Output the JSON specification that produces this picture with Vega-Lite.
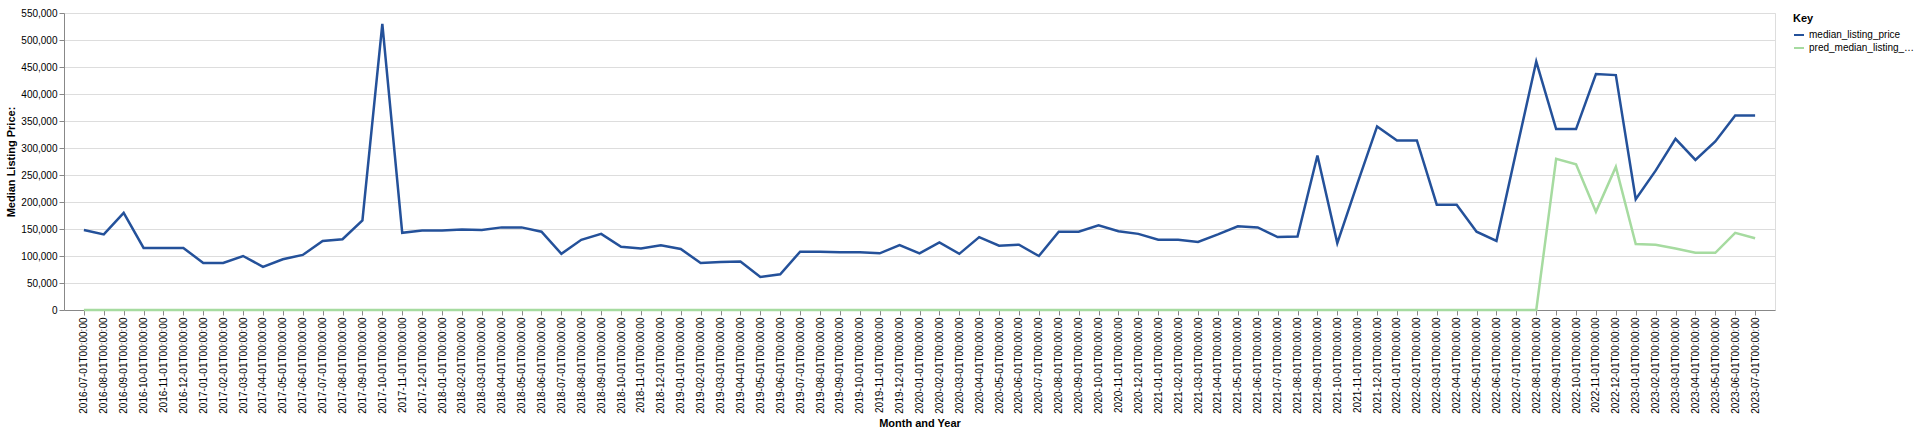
{
  "$schema": "https://vega.github.io/schema/vega-lite/v6.json",
  "width": 1920,
  "height": 434,
  "autosize": {"type": "fit", "contains": "padding"},
  "padding": {"left": 5, "top": 8, "right": 5, "bottom": 5},
  "config": {
    "font": "Liberation Sans",
    "view": {"stroke": "#ddd"},
    "axis": {"labelFontSize": 10, "titleFontSize": 11, "gridColor": "#ddd", "domainColor": "#888", "tickColor": "#888"},
    "legend": {"labelFontSize": 10, "titleFontSize": 11}
  },
  "data": {"values": [
    {"month": "2016-07-01T00:00:00", "median_listing_price": 148000, "pred_median_listing_price": 0},
    {"month": "2016-08-01T00:00:00", "median_listing_price": 140000, "pred_median_listing_price": 0},
    {"month": "2016-09-01T00:00:00", "median_listing_price": 180000, "pred_median_listing_price": 0},
    {"month": "2016-10-01T00:00:00", "median_listing_price": 115000, "pred_median_listing_price": 0},
    {"month": "2016-11-01T00:00:00", "median_listing_price": 115000, "pred_median_listing_price": 0},
    {"month": "2016-12-01T00:00:00", "median_listing_price": 115000, "pred_median_listing_price": 0},
    {"month": "2017-01-01T00:00:00", "median_listing_price": 87000, "pred_median_listing_price": 0},
    {"month": "2017-02-01T00:00:00", "median_listing_price": 87000, "pred_median_listing_price": 0},
    {"month": "2017-03-01T00:00:00", "median_listing_price": 100000, "pred_median_listing_price": 0},
    {"month": "2017-04-01T00:00:00", "median_listing_price": 80000, "pred_median_listing_price": 0},
    {"month": "2017-05-01T00:00:00", "median_listing_price": 94000, "pred_median_listing_price": 0},
    {"month": "2017-06-01T00:00:00", "median_listing_price": 102000, "pred_median_listing_price": 0},
    {"month": "2017-07-01T00:00:00", "median_listing_price": 128000, "pred_median_listing_price": 0},
    {"month": "2017-08-01T00:00:00", "median_listing_price": 131000, "pred_median_listing_price": 0},
    {"month": "2017-09-01T00:00:00", "median_listing_price": 166000, "pred_median_listing_price": 0},
    {"month": "2017-10-01T00:00:00", "median_listing_price": 530000, "pred_median_listing_price": 0},
    {"month": "2017-11-01T00:00:00", "median_listing_price": 143000, "pred_median_listing_price": 0},
    {"month": "2017-12-01T00:00:00", "median_listing_price": 147000, "pred_median_listing_price": 0},
    {"month": "2018-01-01T00:00:00", "median_listing_price": 147000, "pred_median_listing_price": 0},
    {"month": "2018-02-01T00:00:00", "median_listing_price": 149000, "pred_median_listing_price": 0},
    {"month": "2018-03-01T00:00:00", "median_listing_price": 148000, "pred_median_listing_price": 0},
    {"month": "2018-04-01T00:00:00", "median_listing_price": 153000, "pred_median_listing_price": 0},
    {"month": "2018-05-01T00:00:00", "median_listing_price": 153000, "pred_median_listing_price": 0},
    {"month": "2018-06-01T00:00:00", "median_listing_price": 145000, "pred_median_listing_price": 0},
    {"month": "2018-07-01T00:00:00", "median_listing_price": 104000, "pred_median_listing_price": 0},
    {"month": "2018-08-01T00:00:00", "median_listing_price": 130000, "pred_median_listing_price": 0},
    {"month": "2018-09-01T00:00:00", "median_listing_price": 141000, "pred_median_listing_price": 0},
    {"month": "2018-10-01T00:00:00", "median_listing_price": 117000, "pred_median_listing_price": 0},
    {"month": "2018-11-01T00:00:00", "median_listing_price": 114000, "pred_median_listing_price": 0},
    {"month": "2018-12-01T00:00:00", "median_listing_price": 120000, "pred_median_listing_price": 0},
    {"month": "2019-01-01T00:00:00", "median_listing_price": 113000, "pred_median_listing_price": 0},
    {"month": "2019-02-01T00:00:00", "median_listing_price": 87000, "pred_median_listing_price": 0},
    {"month": "2019-03-01T00:00:00", "median_listing_price": 89000, "pred_median_listing_price": 0},
    {"month": "2019-04-01T00:00:00", "median_listing_price": 90000, "pred_median_listing_price": 0},
    {"month": "2019-05-01T00:00:00", "median_listing_price": 61000, "pred_median_listing_price": 0},
    {"month": "2019-06-01T00:00:00", "median_listing_price": 66000, "pred_median_listing_price": 0},
    {"month": "2019-07-01T00:00:00", "median_listing_price": 108000, "pred_median_listing_price": 0},
    {"month": "2019-08-01T00:00:00", "median_listing_price": 108000, "pred_median_listing_price": 0},
    {"month": "2019-09-01T00:00:00", "median_listing_price": 107000, "pred_median_listing_price": 0},
    {"month": "2019-10-01T00:00:00", "median_listing_price": 107000, "pred_median_listing_price": 0},
    {"month": "2019-11-01T00:00:00", "median_listing_price": 105000, "pred_median_listing_price": 0},
    {"month": "2019-12-01T00:00:00", "median_listing_price": 120000, "pred_median_listing_price": 0},
    {"month": "2020-01-01T00:00:00", "median_listing_price": 105000, "pred_median_listing_price": 0},
    {"month": "2020-02-01T00:00:00", "median_listing_price": 125000, "pred_median_listing_price": 0},
    {"month": "2020-03-01T00:00:00", "median_listing_price": 104000, "pred_median_listing_price": 0},
    {"month": "2020-04-01T00:00:00", "median_listing_price": 135000, "pred_median_listing_price": 0},
    {"month": "2020-05-01T00:00:00", "median_listing_price": 119000, "pred_median_listing_price": 0},
    {"month": "2020-06-01T00:00:00", "median_listing_price": 121000, "pred_median_listing_price": 0},
    {"month": "2020-07-01T00:00:00", "median_listing_price": 100000, "pred_median_listing_price": 0},
    {"month": "2020-08-01T00:00:00", "median_listing_price": 145000, "pred_median_listing_price": 0},
    {"month": "2020-09-01T00:00:00", "median_listing_price": 145000, "pred_median_listing_price": 0},
    {"month": "2020-10-01T00:00:00", "median_listing_price": 157000, "pred_median_listing_price": 0},
    {"month": "2020-11-01T00:00:00", "median_listing_price": 146000, "pred_median_listing_price": 0},
    {"month": "2020-12-01T00:00:00", "median_listing_price": 141000, "pred_median_listing_price": 0},
    {"month": "2021-01-01T00:00:00", "median_listing_price": 130000, "pred_median_listing_price": 0},
    {"month": "2021-02-01T00:00:00", "median_listing_price": 130000, "pred_median_listing_price": 0},
    {"month": "2021-03-01T00:00:00", "median_listing_price": 126000, "pred_median_listing_price": 0},
    {"month": "2021-04-01T00:00:00", "median_listing_price": 140000, "pred_median_listing_price": 0},
    {"month": "2021-05-01T00:00:00", "median_listing_price": 155000, "pred_median_listing_price": 0},
    {"month": "2021-06-01T00:00:00", "median_listing_price": 153000, "pred_median_listing_price": 0},
    {"month": "2021-07-01T00:00:00", "median_listing_price": 135000, "pred_median_listing_price": 0},
    {"month": "2021-08-01T00:00:00", "median_listing_price": 136000, "pred_median_listing_price": 0},
    {"month": "2021-09-01T00:00:00", "median_listing_price": 286000, "pred_median_listing_price": 0},
    {"month": "2021-10-01T00:00:00", "median_listing_price": 124000, "pred_median_listing_price": 0},
    {"month": "2021-11-01T00:00:00", "median_listing_price": 233000, "pred_median_listing_price": 0},
    {"month": "2021-12-01T00:00:00", "median_listing_price": 340000, "pred_median_listing_price": 0},
    {"month": "2022-01-01T00:00:00", "median_listing_price": 314000, "pred_median_listing_price": 0},
    {"month": "2022-02-01T00:00:00", "median_listing_price": 314000, "pred_median_listing_price": 0},
    {"month": "2022-03-01T00:00:00", "median_listing_price": 195000, "pred_median_listing_price": 0},
    {"month": "2022-04-01T00:00:00", "median_listing_price": 195000, "pred_median_listing_price": 0},
    {"month": "2022-05-01T00:00:00", "median_listing_price": 145000, "pred_median_listing_price": 0},
    {"month": "2022-06-01T00:00:00", "median_listing_price": 128000, "pred_median_listing_price": 0},
    {"month": "2022-07-01T00:00:00", "median_listing_price": 295000, "pred_median_listing_price": 0},
    {"month": "2022-08-01T00:00:00", "median_listing_price": 460000, "pred_median_listing_price": 0},
    {"month": "2022-09-01T00:00:00", "median_listing_price": 335000, "pred_median_listing_price": 280000},
    {"month": "2022-10-01T00:00:00", "median_listing_price": 335000, "pred_median_listing_price": 270000},
    {"month": "2022-11-01T00:00:00", "median_listing_price": 437000, "pred_median_listing_price": 182000},
    {"month": "2022-12-01T00:00:00", "median_listing_price": 435000, "pred_median_listing_price": 265000},
    {"month": "2023-01-01T00:00:00", "median_listing_price": 205000, "pred_median_listing_price": 122000},
    {"month": "2023-02-01T00:00:00", "median_listing_price": 258000, "pred_median_listing_price": 121000},
    {"month": "2023-03-01T00:00:00", "median_listing_price": 317000, "pred_median_listing_price": 114000},
    {"month": "2023-04-01T00:00:00", "median_listing_price": 278000, "pred_median_listing_price": 106000},
    {"month": "2023-05-01T00:00:00", "median_listing_price": 312000, "pred_median_listing_price": 106000},
    {"month": "2023-06-01T00:00:00", "median_listing_price": 360000, "pred_median_listing_price": 143000},
    {"month": "2023-07-01T00:00:00", "median_listing_price": 360000, "pred_median_listing_price": 133000}
  ]},
  "transform": [
    {"fold": ["median_listing_price", "pred_median_listing_price"], "as": ["Key", "value"]}
  ],
  "mark": {"type": "line", "strokeWidth": 2.5},
  "encoding": {
    "x": {"field": "month", "type": "ordinal", "sort": null, "title": "Month and Year",
      "scale": {"padding": 1.5}, "axis": {"labelAngle": -90, "grid": false}},
    "y": {"field": "value", "type": "quantitative", "title": "Median Listing Price:",
      "scale": {"domain": [0, 550000]}, "axis": {"tickCount": 11}},
    "color": {"field": "Key", "type": "nominal",
      "scale": {"domain": ["median_listing_price", "pred_median_listing_price"], "range": ["#24519a", "#a6dba0"]},
      "legend": {"labelLimit": 110, "symbolType": "stroke", "symbolStrokeWidth": 2}}
  }
}
